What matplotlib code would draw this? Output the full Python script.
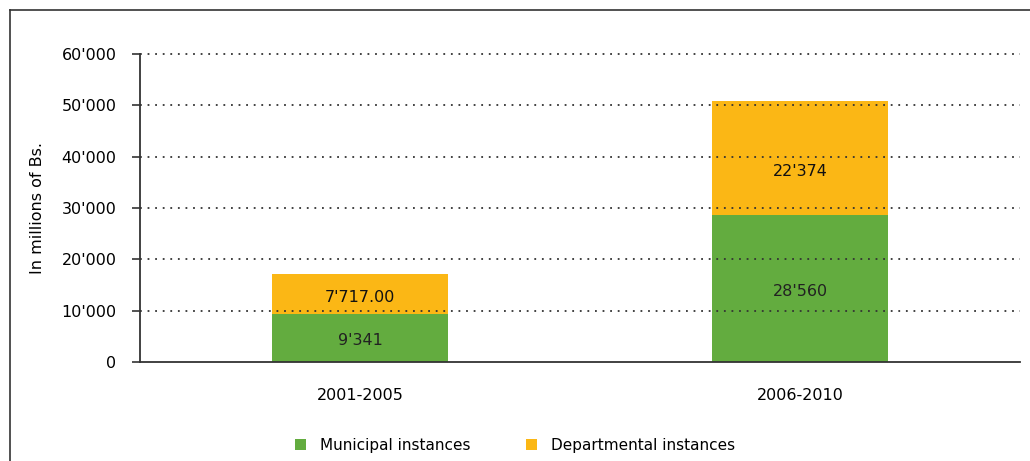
import matplotlib.pyplot as plt
import numpy as np
from matplotlib.lines import Line2D
from matplotlib.ticker import FuncFormatter

periods = ['2001-2005', '2006-2010']
municipal = [9341, 28560]
departmental = [7717, 22374]
municipal_labels = ["9'341", "28'560"]
departmental_labels = ["7'717.00", "22'374"]

green = '#63ac3f'
orange = '#fbb715'

plt.rcParams['font.family'] = 'DejaVu Sans'
plt.rcParams['font.size'] = 11

fig = plt.figure(figsize=(10.30, 4.61), dpi=100)
ax = fig.add_axes([140/1030, 1 - 362/461, 880/1030, 308/461])

x = np.arange(len(periods))
b1 = ax.bar(x, municipal, width=0.4, color=green, label='Municipal instances', zorder=1)
b2 = ax.bar(x, departmental, width=0.4, bottom=municipal, color=orange,
            label='Departmental instances', zorder=1)

# value labels, centred in each segment (the top one sits a little low in the original)
for i in x:
    ax.annotate(municipal_labels[i], (i, municipal[i] / 2), textcoords='offset points',
                xytext=(0, -2), ha='center', va='center', color='#222222', fontsize=11.5, zorder=4)
    ax.annotate(departmental_labels[i], (i, municipal[i] + departmental[i] / 2),
                textcoords='offset points', xytext=(0, -2 - 8 * i), ha='center', va='center',
                color='#111111', fontsize=11.5, zorder=4)

ax.set_xlim(-0.5, 1.5)
ax.set_ylim(0, 60000)
ax.set_yticks(np.arange(0, 60001, 10000))
ax.yaxis.set_major_formatter(FuncFormatter(lambda v, p: f"{int(v):,}".replace(',', "'")))
ax.set_xticks(x)
ax.set_xticklabels(periods, fontsize=11.5)
ax.tick_params(axis='x', length=0, pad=19)
ax.tick_params(axis='y', length=6, width=1.2, color='#333333', pad=11, direction='out',
               labelsize=11.5)

for s in ['top', 'right']:
    ax.spines[s].set_visible(False)
for s in ['left', 'bottom']:
    ax.spines[s].set_color('#333333')
    ax.spines[s].set_linewidth(1.3)
ax.spines['bottom'].set_zorder(3)

for v in np.arange(10000, 60001, 10000):
    ax.plot([-0.5, 1.5], [v, v], color='#333333', linewidth=1.3, linestyle=(0, (1, 3.2)),
            zorder=2, clip_on=False)

ax.set_ylabel('In millions of Bs.', fontsize=11.5)
ax.yaxis.set_label_coords(-0.108, 0.5)

fig.legend(handles=[b1, b2], loc='center', bbox_to_anchor=(0.5, 1 - 445/461), ncol=2,
           frameon=False, handlelength=0.75, handleheight=0.75, columnspacing=3.6,
           handletextpad=0.9, fontsize=11)

# outer frame (top and left edges visible)
fig.add_artist(Line2D([10/1030, 1.0], [1 - 10/461, 1 - 10/461], transform=fig.transFigure,
                      color='#333333', linewidth=1.2))
fig.add_artist(Line2D([10/1030, 10/1030], [0, 1 - 10/461], transform=fig.transFigure,
                      color='#333333', linewidth=1.2))

fig.savefig('out.png', dpi=100)
